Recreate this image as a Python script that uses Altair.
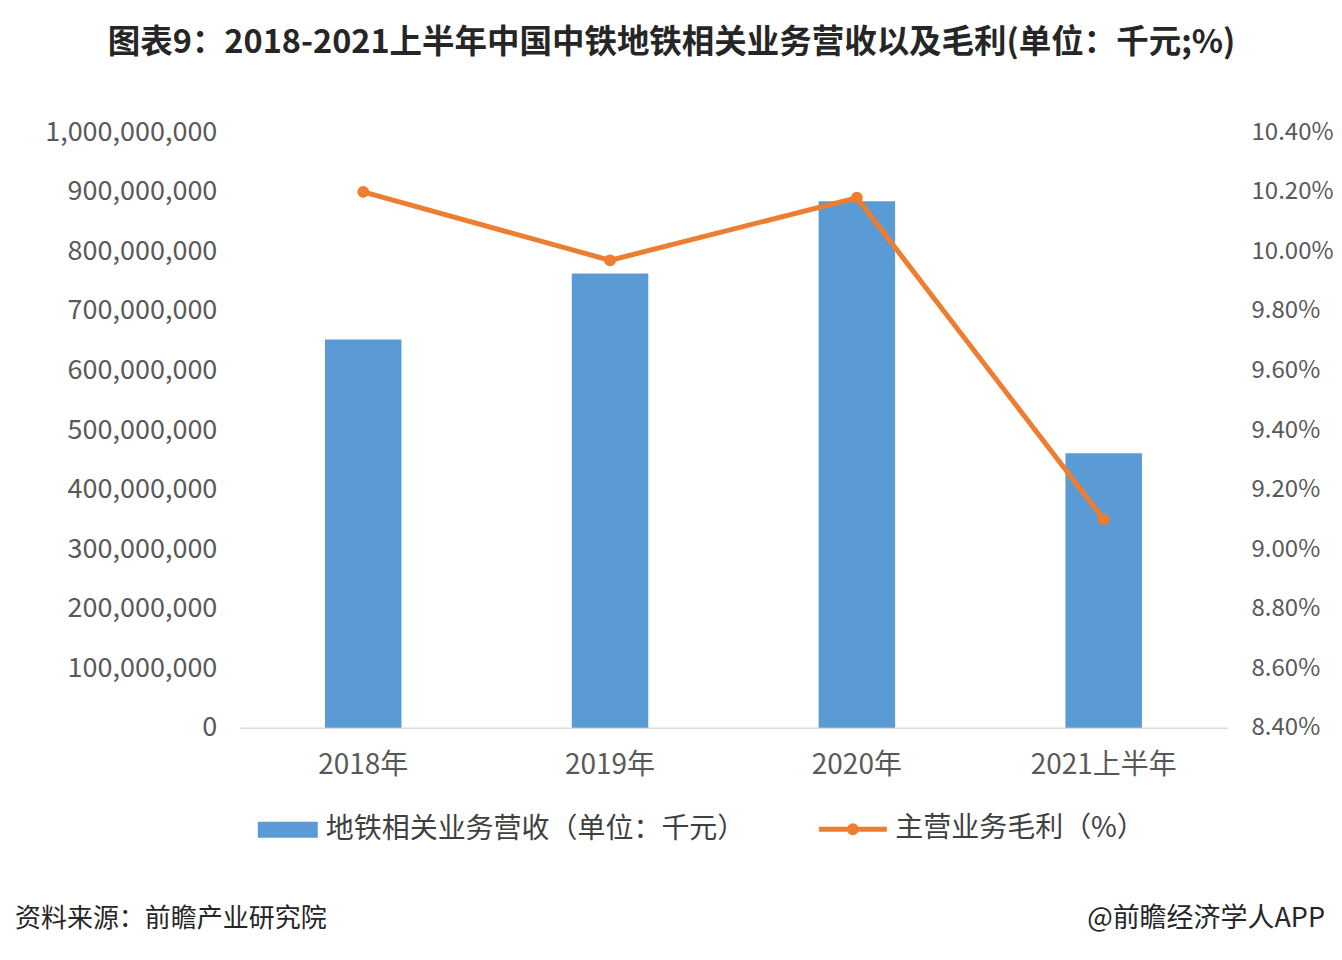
import altair as alt
import pandas as pd

categories = ["2018年", "2019年", "2020年", "2021上半年"]
revenue = [652000000, 763000000, 884000000, 461000000]
margin = [0.1020, 0.0997, 0.1018, 0.0910]
left_ticks = [0, 100000000, 200000000, 300000000, 400000000, 500000000,
              600000000, 700000000, 800000000, 900000000, 1000000000]
right_ticks = [0.084, 0.086, 0.088, 0.090, 0.092, 0.094, 0.096, 0.098,
               0.100, 0.102, 0.104]
bar_name = "地铁相关业务营收（单位：千元）"
line_name = "主营业务毛利（%）"
title_text = "图表9：2018-2021上半年中国中铁地铁相关业务营收以及毛利(单位：千元;%)"
source_text = "资料来源：前瞻产业研究院"
credit_text = "@前瞻经济学人APP"

FONT = "Noto Sans CJK SC"
BLUE = "#5B9BD5"
ORANGE = "#ED7D31"

df = pd.DataFrame({
    "cat": categories,
    "revenue": revenue,
    "margin": margin,
    "bar_series": [bar_name] * len(categories),
    "line_series": [line_name] * len(categories),
})

x = alt.X(
    "cat:N", sort=categories,
    scale=alt.Scale(paddingInner=0.69, paddingOuter=0.345),
    axis=alt.Axis(title=None, labelAngle=0, labelFontSize=28, labelColor="#595959",
                  labelFont=FONT, labelPadding=24, ticks=False,
                  domainColor="#d9d9d9", domainWidth=1.5),
)

bars = alt.Chart(df).mark_bar(color=BLUE).encode(
    x=x,
    y=alt.Y("revenue:Q", scale=alt.Scale(domain=[0, 1000000000], nice=False),
            axis=alt.Axis(title=None, values=left_ticks, format=",d", grid=False,
                          domain=False, ticks=False, labelFontSize=27,
                          labelColor="#595959", labelFont=FONT, labelPadding=23,
                          minExtent=232, maxExtent=232, orient="left")),
    fill=alt.Fill("bar_series:N",
                  scale=alt.Scale(domain=[bar_name], range=[BLUE]),
                  legend=alt.Legend(title=None, orient="none", legendX=18, legendY=668,
                                    symbolType="M-1,-0.27L1,-0.27L1,0.27L-1,0.27Z",
                                    symbolSize=3600, symbolStrokeWidth=0,
                                    labelFontSize=28, labelColor="#404040",
                                    labelFont=FONT, labelOffset=8, labelLimit=600)),
)

yline = alt.Scale(domain=[0.084, 0.104], nice=False, zero=False)
right_axis = alt.Axis(title=None, orient="right", values=right_ticks, format=".2%",
                      grid=False, domain=False, ticks=False, labelFontSize=24,
                      labelColor="#595959", labelFont=FONT, labelPadding=24)

line = alt.Chart(df).mark_line(strokeWidth=5).encode(
    x=x,
    y=alt.Y("margin:Q", scale=yline, axis=right_axis),
    stroke=alt.Stroke("line_series:N",
                      scale=alt.Scale(domain=[line_name], range=[ORANGE]),
                      legend=alt.Legend(title=None, orient="none", legendX=577, legendY=661,
                                        symbolType="M-1,0L1,0M-0.1,0A0.1,0.1 0 1,0 0.1,0A0.1,0.1 0 1,0 -0.1,0",
                                        symbolSize=4624, symbolStrokeWidth=5,
                                        symbolFillColor=ORANGE,
                                        labelFontSize=28, labelColor="#404040",
                                        labelFont=FONT, labelOffset=6, labelLimit=600)),
)

points = alt.Chart(df).mark_point(filled=True, size=140, color=ORANGE, opacity=1).encode(
    x=x,
    y=alt.Y("margin:Q", scale=yline, axis=right_axis),
)

src = alt.Chart(pd.DataFrame({"t": [source_text]})).mark_text(
    align="left", baseline="middle", fontSize=26, font=FONT, color="#262626"
).encode(text="t:N", x=alt.value(-225), y=alt.value(787))

credit = alt.Chart(pd.DataFrame({"t": [credit_text]})).mark_text(
    align="right", baseline="middle", fontSize=27, font=FONT, color="#262626"
).encode(text="t:N", x=alt.value(1086), y=alt.value(787))

line_layer = alt.layer(line, points)

chart = alt.layer(bars, line_layer, src, credit).resolve_scale(
    y="independent"
).properties(
    width=988,
    height=596,
    background="white",
    padding={"left": 0, "top": 18, "right": 0, "bottom": 8},
    title=alt.Title(title_text, fontSize=32.5, font=FONT, fontWeight="bold",
                    color="#262626", anchor="middle", offset=59, dx=-62),
).configure_view(strokeWidth=0)

chart.save("out.html", embed_options={"renderer": "svg", "actions": False})
